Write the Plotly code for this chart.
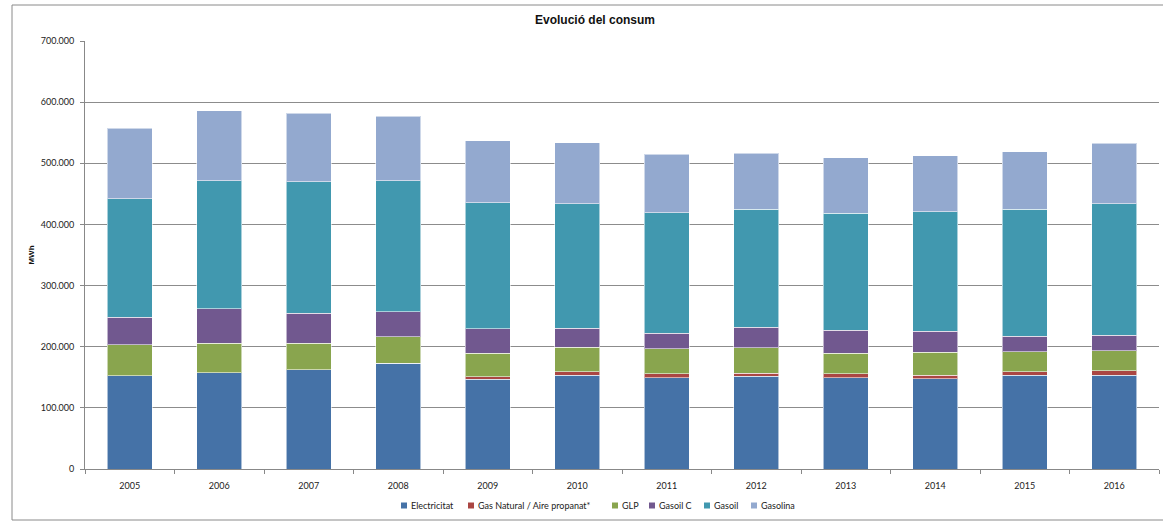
import plotly.graph_objects as go

years = ['2005', '2006', '2007', '2008', '2009', '2010', '2011', '2012', '2013', '2014', '2015', '2016']

electricitat = [152600, 157600, 162400, 172800, 147200, 153700, 149400, 151600, 149400, 147700, 153700, 153700]
gas_natural = [0, 0, 0, 0, 3800, 5000, 6500, 5400, 6500, 5500, 5000, 7100]
glp = [50700, 47900, 43600, 43200, 38700, 40800, 40900, 41400, 33800, 37600, 32700, 32700]
gasoil_c = [45300, 56200, 49000, 41000, 39300, 31100, 25200, 33600, 37300, 34900, 26100, 25500]
gasoil = [193000, 209900, 215000, 214600, 206600, 203400, 197300, 192700, 191200, 195200, 207200, 215000]
gasolina = [116100, 114400, 112000, 105400, 100900, 99700, 95400, 92100, 90500, 91100, 93800, 99000]

series = [
    ('Electricitat', electricitat, '#4572A7'),
    ('Gas Natural / Aire propanat*', gas_natural, '#AA4643'),
    ('GLP', glp, '#89A54E'),
    ('Gasoil C', gasoil_c, '#71588F'),
    ('Gasoil', gasoil, '#4198AF'),
    ('Gasolina', gasolina, '#93A9CF'),
]

# pixel geometry of the plot area (Excel-like layout)
L, R, T, B = 85, 1159, 41, 469
W, H = R - L, B - T


def px(x):
    return (x - L) / W


def py(y):
    return (B - y) / H


fig = go.Figure()
for name, vals, color in series:
    fig.add_trace(go.Bar(
        x=years, y=vals, name=name, showlegend=False,
        marker=dict(color=color, line=dict(color='rgba(255,255,255,0.55)', width=1)),
    ))

tick_font = dict(family='Lato, Liberation Sans, sans-serif', size=9, color='#222')

# compact legend drawn like the Excel one: small square + label
legend_x = [401, 468, 612, 649, 704, 751]
legend_y = 505.5
shapes = []
annotations = []
for (name, _, color), lx in zip(series, legend_x):
    shapes.append(dict(type='rect', xref='paper', yref='paper', x0=px(lx), x1=px(lx + 6),
                       y0=py(legend_y + 3), y1=py(legend_y - 3), fillcolor=color, line=dict(width=0)))
    annotations.append(dict(text=name, xref='paper', yref='paper', x=px(lx + 8), y=py(legend_y),
                            xanchor='left', yanchor='middle', showarrow=False, font=tick_font))

# chart frame: left, top and bottom edges
frame = dict(xref='paper', yref='paper', line=dict(color='#8a8a8a', width=1), layer='below')
shapes += [
    dict(type='line', x0=px(12), x1=px(12), y0=py(520), y1=py(5), **frame),
    dict(type='line', x0=px(12), x1=px(1163), y0=py(5), y1=py(5), **frame),
    dict(type='line', x0=px(12), x1=px(1163), y0=py(520), y1=py(520), **frame),
]

fig.update_layout(
    barmode='stack',
    bargap=0.5,
    width=1163, height=521,
    margin=dict(l=L, r=1163 - R, t=T, b=521 - B, autoexpand=False),
    paper_bgcolor='white',
    plot_bgcolor='white',
    separators=',.',
    title=dict(text='<b>Evolució del consum</b>', x=595 / 1163, xref='container', xanchor='center',
               y=1 - 20 / 521, yref='container', yanchor='middle',
               font=dict(family='Liberation Sans, Arial, sans-serif', size=12, color='#111')),
    xaxis=dict(type='category', showline=True, linecolor='#888', linewidth=1,
               ticks='outside', ticklen=4, tickcolor='#888', tickson='boundaries',
               tickfont=tick_font, ticklabelstandoff=8, showgrid=False),
    yaxis=dict(range=[0, 700000], dtick=100000, tickformat=',d', showline=True, linecolor='#888', linewidth=1,
               ticks='outside', ticklen=4, tickcolor='#888', tickfont=tick_font, ticklabelstandoff=4,
               showgrid=True, gridcolor='#8c8c8c', gridwidth=1, zeroline=False,
               title=dict(text='<b>MWh</b>', standoff=4,
                          font=dict(family='Liberation Sans, Arial, sans-serif', size=8, color='#111'))),
    shapes=shapes,
    annotations=annotations,
)

# drop the default page margin so the figure sits at the window's top-left corner
fig.write_html('out.html', config={'displayModeBar': False},
               post_script="document.body.style.margin='0';")
